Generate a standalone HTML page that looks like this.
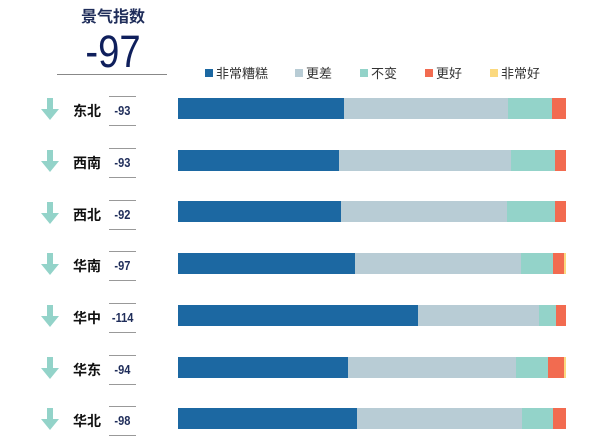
<!DOCTYPE html><html><head><meta charset="utf-8"><style>
body{margin:0;width:600px;height:440px;background:#fff;font-family:"Liberation Sans","Noto Sans CJK SC",sans-serif;position:relative;overflow:hidden}
.a{position:absolute}
.t{left:58px;width:110px;text-align:center;top:3px;font-size:16px;font-weight:bold;color:#1f2d5a}
.big{left:58px;width:110px;text-align:center;top:26px;font-size:45px;color:#0f1f5c;transform:scaleX(0.85)}
.hl{left:57px;width:110px;top:74px;height:1px;background:#888}
.leg{top:63px;font-size:13px;color:#333}
.sw{display:inline-block;width:8px;height:8px;margin-right:3px;vertical-align:1px}
.bar{position:absolute;left:178px;height:21px;width:388px;display:flex}
.bar div{height:100%}
.lab{left:73px;font-size:14px;font-weight:bold;color:#111}
.val{left:109px;width:27px;font-size:13px;font-weight:bold;color:#1f2d5a;text-align:center;border-top:1px solid #999;border-bottom:1px solid #999;height:28px;line-height:28px}
.val span{display:inline-block;transform:scaleX(0.85)}
</style></head><body>
<div class="a t">景气指数</div>
<div class="a big">-97</div>
<div class="a hl"></div>
<div class="a leg" style="left:205px"><span class="sw" style="background:#1c68a2"></span>非常糟糕</div>
<div class="a leg" style="left:295px"><span class="sw" style="background:#b8ccd5"></span>更差</div>
<div class="a leg" style="left:360px"><span class="sw" style="background:#93d3c9"></span>不变</div>
<div class="a leg" style="left:425px"><span class="sw" style="background:#f26b50"></span>更好</div>
<div class="a leg" style="left:490px"><span class="sw" style="background:#fbd97f"></span>非常好</div>
<svg class="a" style="left:0;top:0" width="600" height="440">
<g fill="#93d3c9">
<path d="M47 98h6v11h6l-9 11-9-11h6z"/>
<path d="M47 150h6v11h6l-9 11-9-11h6z"/>
<path d="M47 202h6v11h6l-9 11-9-11h6z"/>
<path d="M47 253h6v11h6l-9 11-9-11h6z"/>
<path d="M47 305h6v11h6l-9 11-9-11h6z"/>
<path d="M47 357h6v11h6l-9 11-9-11h6z"/>
<path d="M47 408h6v11h6l-9 11-9-11h6z"/>
</g></svg>
<div class="a lab" style="top:101px">东北</div><div class="a val" style="top:96px"><span>-93</span></div>
<div class="a lab" style="top:153px">西南</div><div class="a val" style="top:148px"><span>-93</span></div>
<div class="a lab" style="top:205px">西北</div><div class="a val" style="top:200px"><span>-92</span></div>
<div class="a lab" style="top:256px">华南</div><div class="a val" style="top:251px"><span>-97</span></div>
<div class="a lab" style="top:308px">华中</div><div class="a val" style="top:303px"><span>-114</span></div>
<div class="a lab" style="top:360px">华东</div><div class="a val" style="top:355px"><span>-94</span></div>
<div class="a lab" style="top:411px">华北</div><div class="a val" style="top:406px"><span>-98</span></div>

<div class="bar" style="top:98px"><div style="width:166px;background:#1c68a2"></div><div style="width:164px;background:#b8ccd5"></div><div style="width:44px;background:#93d3c9"></div><div style="width:14px;background:#f26b50"></div></div>
<div class="bar" style="top:150px"><div style="width:161px;background:#1c68a2"></div><div style="width:172px;background:#b8ccd5"></div><div style="width:44px;background:#93d3c9"></div><div style="width:11px;background:#f26b50"></div></div>
<div class="bar" style="top:201px"><div style="width:163px;background:#1c68a2"></div><div style="width:166px;background:#b8ccd5"></div><div style="width:48px;background:#93d3c9"></div><div style="width:11px;background:#f26b50"></div></div>
<div class="bar" style="top:253px"><div style="width:177px;background:#1c68a2"></div><div style="width:166px;background:#b8ccd5"></div><div style="width:32px;background:#93d3c9"></div><div style="width:11px;background:#f26b50"></div><div style="width:2px;background:#fbd97f"></div></div>
<div class="bar" style="top:305px"><div style="width:240px;background:#1c68a2"></div><div style="width:121px;background:#b8ccd5"></div><div style="width:17px;background:#93d3c9"></div><div style="width:10px;background:#f26b50"></div></div>
<div class="bar" style="top:357px"><div style="width:170px;background:#1c68a2"></div><div style="width:168px;background:#b8ccd5"></div><div style="width:32px;background:#93d3c9"></div><div style="width:16px;background:#f26b50"></div><div style="width:2px;background:#fbd97f"></div></div>
<div class="bar" style="top:408px"><div style="width:179px;background:#1c68a2"></div><div style="width:165px;background:#b8ccd5"></div><div style="width:31px;background:#93d3c9"></div><div style="width:13px;background:#f26b50"></div></div>
</body></html>
